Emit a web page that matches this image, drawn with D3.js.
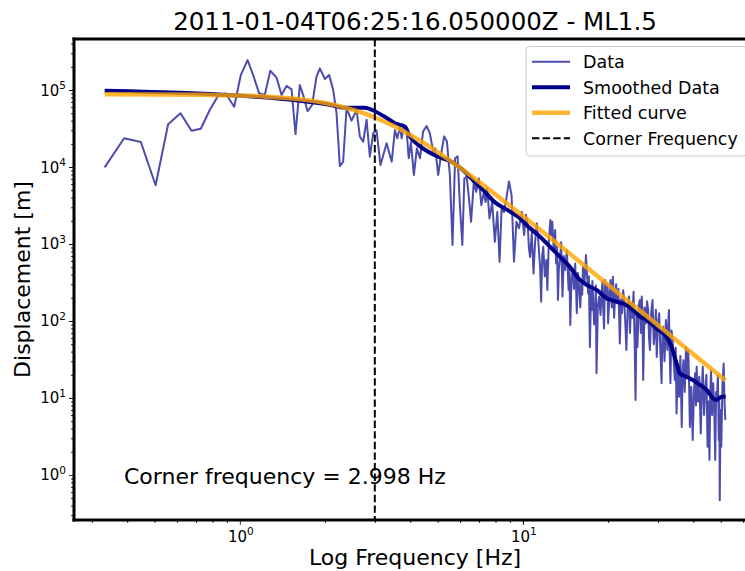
<!DOCTYPE html>
<html>
<head>
<meta charset="utf-8">
<script src="https://cdn.jsdelivr.net/npm/d3@7"></script>
<style>
  body { margin: 0; background: #fff; }
  svg { display: block; font-family: "DejaVu Sans", sans-serif; }
</style>
</head>
<body>
<div id="chart"></div>
<script>
const chartTitle = '2011-01-04T06:25:16.050000Z - ML1.5';
const xLabel = 'Log Frequency [Hz]';
const yLabel = 'Displacement [m]';
const cornerFreq = 2.998;
const cornerText = 'Corner frequency = 2.998 Hz';

// raw spectrum
const dataFreq = [0.333, 0.390, 0.447, 0.504, 0.558, 0.617, 0.675, 0.728, 0.783, 0.834, 0.890, 0.955,
  1.008, 1.065, 1.109, 1.170, 1.225, 1.281, 1.348, 1.404, 1.462, 1.523, 1.573, 1.629, 1.674, 1.735,
  1.801, 1.866, 1.918, 1.997, 2.068, 2.137, 2.196, 2.256, 2.317, 2.382, 2.481, 2.585, 2.655, 2.728,
  2.804, 2.880, 2.958, 3.040, 3.140, 3.300, 3.440, 3.530, 3.600, 3.680,
  3.73, 3.78, 3.88, 3.95, 4.02, 4.12, 4.22, 4.33, 4.44, 4.57, 4.69, 4.82, 4.90, 5.02, 5.16, 5.27,
  5.39, 5.52, 5.64, 5.76, 5.88, 5.99, 6.11, 6.21, 6.33, 6.45, 6.56, 6.71, 6.84, 6.99, 7.13, 7.28,
  7.38, 7.48, 7.62, 7.79, 7.96, 8.12, 8.27, 8.41, 8.57, 8.74, 8.93, 9.12, 9.30, 9.49, 9.69, 9.91,
  10.1, 10.25, 10.4, 10.5, 10.6, 10.75, 10.9, 11.05, 11.2, 11.3, 11.5, 11.6, 11.7, 11.8, 11.95, 12.1,
  12.2, 12.35, 12.5, 12.6, 12.7, 12.85, 13.0, 13.1, 13.2, 13.3, 13.4, 13.5, 13.65, 13.8, 13.95, 14.1,
  14.3, 14.5, 14.6, 14.7, 14.85, 15.0, 15.15, 15.3, 15.4, 15.5, 15.65, 15.8, 15.95, 16.1, 16.2, 16.3,
  16.5, 16.7, 16.85, 17.0, 17.1, 17.25, 17.4, 17.5, 17.6, 17.7, 17.85, 18.0, 18.1, 18.2, 18.4, 18.6,
  18.8, 19.0, 19.1, 19.2, 19.35, 19.5, 19.65, 19.8, 19.9, 20.0, 20.2, 20.4, 20.6, 20.8, 21.0, 21.2,
  21.35, 21.5, 21.75, 22.0, 22.2, 22.4, 22.6, 22.8, 23.0, 23.2, 23.45, 23.7, 23.9, 24.1, 24.35, 24.6,
  24.8, 25.0, 25.2, 25.4, 25.65, 25.9, 26.1, 26.3, 26.45, 26.6, 26.9, 27.2, 27.45, 27.7, 27.9, 28.1,
  28.4, 28.7, 29.0, 29.3, 29.5, 29.7, 30.0, 30.3, 30.6, 30.9, 31.1, 31.3, 31.65, 32.0, 32.2, 32.4,
  32.6, 32.8, 33.0, 33.2, 33.5, 33.8, 34.1, 34.4, 34.65, 34.9, 35.25, 35.6, 36.0, 36.4, 36.65, 36.9,
  37.3, 37.7, 38.05, 38.4, 38.65, 38.9, 39.35, 39.8, 40.2, 40.6, 40.85, 41.1, 41.55, 42.0, 42.25, 42.5,
  42.85, 43.2, 43.65, 44.1, 44.5, 44.9, 45.25, 45.6, 45.9, 46.2, 46.6, 47.0, 47.4, 47.8, 48.15, 48.5,
  48.85, 49.2, 49.4, 49.6, 49.9, 50.2, 50.7, 51.2, 51.55, 51.9];
const dataAmp = [9.9e3, 2.36e4, 2.11e4, 5.8e3, 3.6e4, 5.0e4, 2.96e4, 3.14e4, 5.5e4, 8.2e4, 9.06e4, 6.07e4,
  1.57e5, 2.45e5, 1.65e5, 9.06e4, 8.6e4, 1.78e5, 1.45e5, 8.6e4, 1.13e5, 1.02e5, 2.68e4, 1.16e5, 8.6e4, 5.3e4,
  6.4e4, 1.49e5, 1.91e5, 1.39e5, 1.57e5, 1.0e5, 4.98e4, 1.03e4, 1.17e4, 5.8e4, 4.0e4, 5.5e4, 2.48e4, 2.13e4,
  4.1e4, 1.36e4, 2.74e4, 3.0e4, 1.06e4, 2.03e4, 1.17e4, 3.0e4, 2.36e4, 3.34e4,
  2.35e4, 3.2e4, 3.0e4, 1.3e4, 2.1e4, 7.9e3, 1.75e4, 1.3e4, 2.9e4, 3.4e4, 2.75e4, 1.59e4, 1.75e4, 7.9e3, 1.59e4, 2.5e4,
  2.15e4, 7.9e3, 970, 1.3e4, 1.38e4, 3.2e3, 970, 7.1e3, 7.5e3, 3.9e3, 1.95e3, 6.5e3, 4.75e3, 7.1e3, 3.2e3, 4.75e3,
  3.5e3, 5.3e3, 2.15e3, 3.5e3, 1.07e3, 2.6e3, 590, 2.9e3, 2.6e3, 3.9e3, 6.5e3, 4.3e3, 590, 1.95e3, 1.6e3, 2.6e3,
  1.31e3, 2.4e3, 1.77e3, 900, 680, 1.4e3, 415, 1.1e3, 1.85e3, 1.25e3, 505, 178, 700, 920, 380, 620,
  253, 1.1e3, 2.05e3, 1.3e3, 1.95e3, 800, 1.52e3, 560, 900, 187, 480, 620, 1.05e3, 208, 700, 460,
  820, 253, 520, 89, 350, 460, 260, 560, 300, 126, 420, 278, 150, 341, 220, 510,
  300, 720, 400, 228, 380, 46, 250, 139, 330, 208, 90, 139, 290, 21, 160, 208,
  120, 253, 330, 152, 80, 341, 240, 187, 300, 93, 200, 341, 150, 375, 110, 228,
  300, 170, 260, 51, 190, 126, 250, 187, 95, 42, 150, 208, 70, 170, 110, 240,
  60, 9.4, 120, 46, 160, 187, 70, 208, 110, 17.1, 150, 93, 180, 139, 60, 42,
  130, 187, 50, 76, 140, 34, 90, 126, 40, 15.5, 70, 84, 30, 103, 60, 42,
  90, 139, 40, 15.5, 75, 57, 30, 17.1, 45, 6.3, 25, 10.4, 35, 4.2, 20, 31,
  12, 46, 20, 42, 15, 4.2, 14, 2.85, 12, 21, 8, 25.5, 9, 18.9, 8, 3.45,
  12, 25.5, 6, 14.0, 20, 2.33, 9, 1.57, 11, 23, 6, 15.5, 8, 1.57, 12, 10.4,
  20, 2.85, 9, 0.47, 7, 2.33, 15, 28, 9, 5.2];

// smoothed spectrum
const smoothFreq = [0.333, 1.13, 1.564, 2.05, 2.35, 2.76, 2.997, 3.25, 3.53, 3.83, 3.99, 4.27, 4.63, 5.02,
  5.6, 6.23, 6.76, 7.33, 7.95, 8.63, 9.6, 10.6, 11.5, 12.46, 13.5, 14.66, 15.7, 16.8, 18.2, 19.8, 21.4,
  23.2, 24.5, 25.9, 27.4, 29.6, 32.1, 33.5, 34.9, 35.8, 37.8, 39.8, 42.2, 44.6, 47.0, 48.3, 50.4, 52.0];
const smoothAmp = [9.8e4, 8.2e4, 7.4e4, 6.5e4, 5.9e4, 5.9e4, 5.3e4, 4.5e4, 3.7e4, 3.34e4, 2.48e4, 1.93e4, 1.58e4, 1.36e4,
  1.17e4, 8.7e3, 6.4e3, 4.8e3, 3.5e3, 2.9e3, 2.26e3, 1.6e3, 1.24e3, 923, 684, 507, 359, 294, 253, 197, 178,
  161, 139, 114, 103, 80, 62.5, 46.4, 28.2, 20.9, 18.9, 17.1, 14.8, 12.7, 9.9, 9.4, 10.4, 10.4];

// fitted source spectrum
const fitFreq = [0.333, 0.5, 0.75, 1.0, 1.25, 1.5, 1.75, 2.0, 2.25, 2.5, 2.75, 3.0, 3.5, 4.0, 4.5, 5.0,
  6.0, 7.0, 8.0, 10, 12, 15, 20, 25, 30, 35, 40, 45, 52];
const fitAmp = [8.79e4, 8.76e4, 8.66e4, 8.49e4, 8.2e4, 7.82e4, 7.34e4, 6.79e4, 6.19e4, 5.57e4, 4.97e4, 4.40e4,
  3.40e4, 2.61e4, 2.01e4, 1.56e4, 9.77e3, 6.41e3, 4.40e3, 2.31e3, 1.35e3, 697, 295, 151, 87.8, 55.3, 37.0, 26.0, 16.9];

const xMajor = [1, 10];
const yMajor = [1, 10, 100, 1000, 10000, 100000];
const legendLabels = ['Data', 'Smoothed Data', 'Fitted curve', 'Corner Frequency'];

const width = 745, height = 571;
const plot = { left: 74, right: 756, top: 39, bottom: 520 };

const svg = d3.select('#chart').append('svg')
  .attr('width', width).attr('height', height);

const x = d3.scaleLog().domain([0.2595, 66.6]).range([plot.left, plot.right]);
const y = d3.scaleLog().domain([0.26, 4.6e5]).range([plot.bottom, plot.top]);

svg.append('clipPath').attr('id', 'clip')
  .append('rect')
  .attr('x', plot.left).attr('y', plot.top)
  .attr('width', plot.right - plot.left).attr('height', plot.bottom - plot.top);

const zip = (fs, vs) => fs.map((f, i) => [f, vs[i]]);
const line = d3.line().x(d => x(d[0])).y(d => y(d[1]));
const smoothLine = d3.line().x(d => x(d[0])).y(d => y(d[1])).curve(d3.curveMonotoneX);

const g = svg.append('g').attr('clip-path', 'url(#clip)');

g.append('path')
  .attr('d', line(zip(dataFreq, dataAmp)))
  .attr('fill', 'none')
  .attr('stroke', 'rgba(0,0,139,0.7)')
  .attr('stroke-width', 2)
  .attr('stroke-linejoin', 'round');

g.append('path')
  .attr('d', smoothLine(zip(smoothFreq, smoothAmp)))
  .attr('fill', 'none')
  .attr('stroke', '#00008b')
  .attr('stroke-width', 4)
  .attr('stroke-linejoin', 'round');

g.append('path')
  .attr('d', smoothLine(zip(fitFreq, fitAmp)))
  .attr('fill', 'none')
  .attr('stroke', 'rgba(255,165,0,0.8)')
  .attr('stroke-width', 4.5);

g.append('line')
  .attr('x1', x(cornerFreq)).attr('x2', x(cornerFreq))
  .attr('y1', plot.top).attr('y2', plot.bottom)
  .attr('stroke', '#000')
  .attr('stroke-width', 2)
  .attr('stroke-dasharray', '7.4,3.2');

// axes: ticks from d3, labels drawn as 10^n
const xMinor = x.ticks().filter(t => !xMajor.includes(t));
const yMinor = y.ticks().filter(t => !yMajor.includes(t));

const xAxis = svg.append('g').attr('transform', `translate(0,${plot.bottom})`);
xAxis.call(d3.axisBottom(x).tickValues(xMajor).tickSize(4.9).tickFormat(''));
xAxis.append('g').call(d3.axisBottom(x).tickValues(xMinor).tickSize(2.8).tickFormat(''));

const yAxis = svg.append('g').attr('transform', `translate(${plot.left},0)`);
yAxis.call(d3.axisLeft(y).tickValues(yMajor).tickSize(4.9).tickFormat(''));
yAxis.append('g').call(d3.axisLeft(y).tickValues(yMinor).tickSize(2.8).tickFormat(''));

svg.selectAll('.domain').remove();
xAxis.selectAll('.tick line').attr('stroke-width', 1);
yAxis.selectAll('.tick line').attr('stroke-width', 1);
xAxis.select('g').selectAll('.tick line').attr('stroke-width', 0.8);
yAxis.select('g').selectAll('.tick line').attr('stroke-width', 0.8);

function powLabel(sel, v) {
  const e = Math.round(Math.log10(v));
  sel.append('tspan').text('10');
  sel.append('tspan').attr('font-size', '10.5px').attr('dy', -6.5).text(e);
}

xMajor.forEach(v => {
  svg.append('text')
    .attr('x', x(v) + 1).attr('y', 541.5)
    .attr('text-anchor', 'middle')
    .attr('font-size', '15px')
    .call(powLabel, v);
});

yMajor.forEach(v => {
  svg.append('text')
    .attr('x', 66).attr('y', y(v) + 5.5)
    .attr('text-anchor', 'end')
    .attr('font-size', '15px')
    .call(powLabel, v);
});

// spines
const spine = svg.append('g').attr('stroke', '#000').attr('stroke-width', 3).attr('stroke-linecap', 'square');
spine.append('line').attr('x1', plot.left).attr('x2', plot.left).attr('y1', plot.top).attr('y2', plot.bottom);
spine.append('line').attr('x1', plot.left).attr('x2', plot.right).attr('y1', plot.bottom).attr('y2', plot.bottom);
spine.append('line').attr('x1', plot.left).attr('x2', plot.right).attr('y1', plot.top).attr('y2', plot.top);
spine.append('line').attr('x1', plot.right).attr('x2', plot.right).attr('y1', plot.top).attr('y2', plot.bottom);

// texts
svg.append('text')
  .attr('x', (plot.left + plot.right) / 2).attr('y', 30)
  .attr('text-anchor', 'middle')
  .attr('font-size', '24.5px')
  .text(chartTitle);

svg.append('text')
  .attr('x', (plot.left + plot.right) / 2).attr('y', 565)
  .attr('text-anchor', 'middle')
  .attr('font-size', '22px')
  .text(xLabel);

svg.append('text')
  .attr('transform', `translate(30,${(plot.top + plot.bottom) / 2}) rotate(-90)`)
  .attr('text-anchor', 'middle')
  .attr('font-size', '22px')
  .text(yLabel);

svg.append('text')
  .attr('x', 124).attr('y', 484)
  .attr('font-size', '22px')
  .text(cornerText);

// legend
const legend = svg.append('g');
legend.append('rect')
  .attr('x', 526).attr('y', 46.5)
  .attr('width', 221).attr('height', 109.5)
  .attr('rx', 4)
  .attr('fill', 'rgba(255,255,255,0.8)')
  .attr('stroke', '#cccccc')
  .attr('stroke-width', 1);

const handleStyles = [
  { stroke: 'rgba(0,0,139,0.7)', w: 2, dash: null },
  { stroke: '#00008b', w: 4, dash: null },
  { stroke: 'rgba(255,165,0,0.8)', w: 4.5, dash: null },
  { stroke: '#000', w: 2, dash: '7.4,3.2' }
];

legendLabels.forEach((label, i) => {
  const ly = 61.7 + i * 25.5;
  const s = handleStyles[i];
  legend.append('line')
    .attr('x1', 532).attr('x2', 570)
    .attr('y1', ly).attr('y2', ly)
    .attr('stroke', s.stroke)
    .attr('stroke-width', s.w)
    .attr('stroke-dasharray', s.dash);
  legend.append('text')
    .attr('x', 583).attr('y', ly + 6.3)
    .attr('font-size', '17.5px')
    .text(label);
});
</script>
</body>
</html>
